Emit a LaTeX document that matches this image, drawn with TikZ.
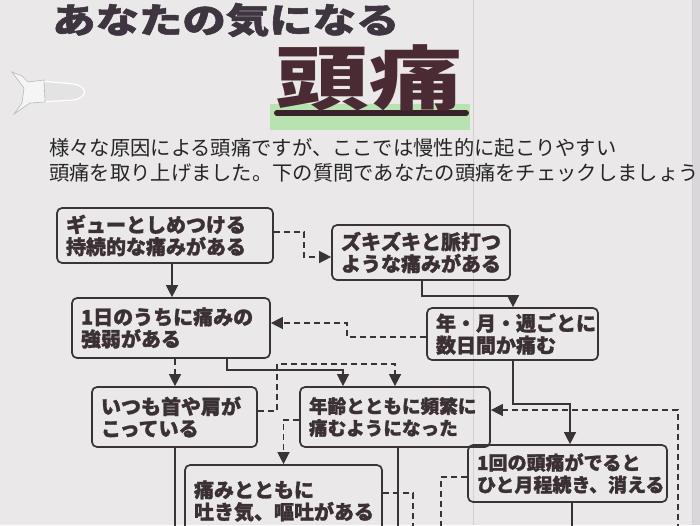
\documentclass[tikz,border=0pt]{standalone}
\usepackage{fontspec}
\newfontfamily\jp{Noto Sans CJK JP}
\newfontfamily\jph{Noto Sans CJK JP}[BoldFeatures={FakeBold=1.4}]
\usetikzlibrary{arrows.meta}
\definecolor{paper}{HTML}{EAE8E9}
\definecolor{ink}{HTML}{3A3438}
\definecolor{boxtext}{HTML}{3B3034}
\definecolor{titlec}{HTML}{3E3541}
\definecolor{bigc}{HTML}{4A2A33}
\definecolor{hl}{HTML}{B8E2B0}
\definecolor{fold}{HTML}{D2D0D2}
\begin{document}
\begin{tikzpicture}[x=1pt,y=-1pt,
  box/.style={draw=ink, line width=1.7pt, rounded corners=5pt, align=left,
    inner xsep=9pt, inner ysep=0pt, text=boxtext,
    font=\jph\bfseries\fontsize{20}{22}\selectfont},
  sol/.style={draw=ink, line width=1.4pt},
  dsh/.style={draw=ink, line width=1.4pt, dash pattern=on 6pt off 4pt},
  tip/.style={-{Triangle[length=12pt,width=12pt]}},
]
\useasboundingbox (0,0) rectangle (700,525);
\clip (0,0) rectangle (700,525);
% paper
\fill[paper] (0,0) rectangle (700,525);
\fill[fold!70!paper] (692,0) rectangle (700,525);
\draw[fold, line width=0.8pt] (692,0) -- (692,525);
\draw[fold, line width=0.8pt] (473,0) -- (473,525);
% torn tab: hole and paper flap
\filldraw[fill=gray!22, draw=white, line width=1.2pt]
  (40,81) -- (74,84) .. controls (88,87) and (88,97) .. (74,100) -- (40,102) -- cycle;
\filldraw[fill=white!92!gray, draw=gray!55, line width=0.6pt]
  (12,72) -- (22,76) -- (28,82) -- (44,80) -- (45,102) -- (30,103) -- (14,114)
  -- (22,103) -- (24,88) -- cycle;
% header
\node[anchor=west, xscale=1.24, text=titlec, inner sep=0pt,
  font=\jph\bfseries\fontsize{35}{35}\selectfont] (title) at (52,20) {あなたの気になる};
\fill[hl] (270,104) rectangle (470,130);
\draw[bigc!80!black, line width=6pt, line cap=round] (277,113) -- (466,113);
\node[anchor=center, xscale=1.33, text=bigc, inner sep=0pt,
  font=\jp\bfseries\fontsize{70}{70}\selectfont] (big) at (369,78) {頭痛};
\node[anchor=west, inner sep=0pt, text=black!85,
  font=\jp\fontsize{20.3}{24}\selectfont] (p1) at (49,148)
  {様々な原因による頭痛ですが、ここでは慢性的に起こりやすい};
\node[anchor=west, inner sep=0pt, text=black!85,
  font=\jp\fontsize{20.3}{24}\selectfont] (p2) at (49,173)
  {頭痛を取り上げました。下の質問であなたの頭痛をチェックしましょう};
% boxes
\node[box, minimum width=216, minimum height=55, text width=198] (A) at (165,235.5)
  {ギューとしめつける\\持続的な痛みがある};
\node[box, minimum width=178, minimum height=55, text width=160] (B) at (421,252.5)
  {ズキズキと脈打つ\\ような痛みがある};
\node[box, minimum width=198, minimum height=60, text width=180] (C) at (171,328)
  {1日のうちに痛みの\\強弱がある};
\node[box, minimum width=171, minimum height=52, text width=153] (D) at (512.5,334)
  {年・月・週ごとに\\数日間か痛む};
\node[box, minimum width=165, minimum height=60, text width=147] (E) at (174.5,417)
  {いつも首や肩が\\こっている};
\node[box, minimum width=190, minimum height=60, text width=172,
  font=\jph\bfseries\fontsize{18.6}{22}\selectfont] (F) at (395,417)
  {年齢とともに頻繁に\\痛むようになった};
\node[box, minimum width=197, minimum height=72, text width=179] (G) at (283.5,501)
  {痛みとともに\\吐き気、嘔吐がある};
\node[box, minimum width=199, minimum height=57, text width=181,
  font=\jph\bfseries\fontsize{19}{22}\selectfont] (H) at (567.5,473.5)
  {1回の頭痛がでると\\ひと月程続き、消える};
\coordinate (rb) at (678,530);
% connectors
\draw[sol, tip] ([xshift=7pt]A.south) -- ([xshift=7pt]A.south |- C.north);
\draw[dsh, tip] ([yshift=3.5pt]A.east) -- ++(30,0) |- ([yshift=-4.5pt]B.west);
\draw[sol, tip] ([xshift=1pt]B.south) -- ++(0,15) -| ([xshift=0.5pt]D.north);
\draw[dsh, tip] ([yshift=-3pt]D.west) -- ++(-79,0) |- ([yshift=5pt]C.east);
\draw[dsh, tip] ([xshift=4pt]C.south) -- ([xshift=4pt]C.south |- E.north);
\draw[sol, tip] ([xshift=56pt]C.south) -- ++(0,11) -| ([xshift=-52pt]F.north);
\draw[dsh, tip] ([yshift=6pt]E.east) -- ++(19,0) -- ++(0,-47) -| (F.north);
\draw[sol] ([xshift=0.5pt]E.south) -- ++(0,90);
\draw[dsh, tip] ([yshift=-3pt]F.west) -| (G.north);
\draw[sol] ([xshift=3pt]F.south) -- ++(0,90);
\draw[dsh, tip] (rb) |- ([yshift=7pt]F.east);
\draw[dsh] ([yshift=8pt]G.east) -- ++(30,0) -- ++(0,50);
\draw[sol, tip] ([xshift=0.5pt]D.south) -- ++(0,43) -| ([xshift=2.5pt]H.north);
\draw[dsh] ([yshift=-3.5pt]H.west) -- ++(-26,0) -- ++(0,60);
\draw[sol] ([xshift=4.5pt]H.south) -- ++(0,40);
\end{tikzpicture}
\end{document}
